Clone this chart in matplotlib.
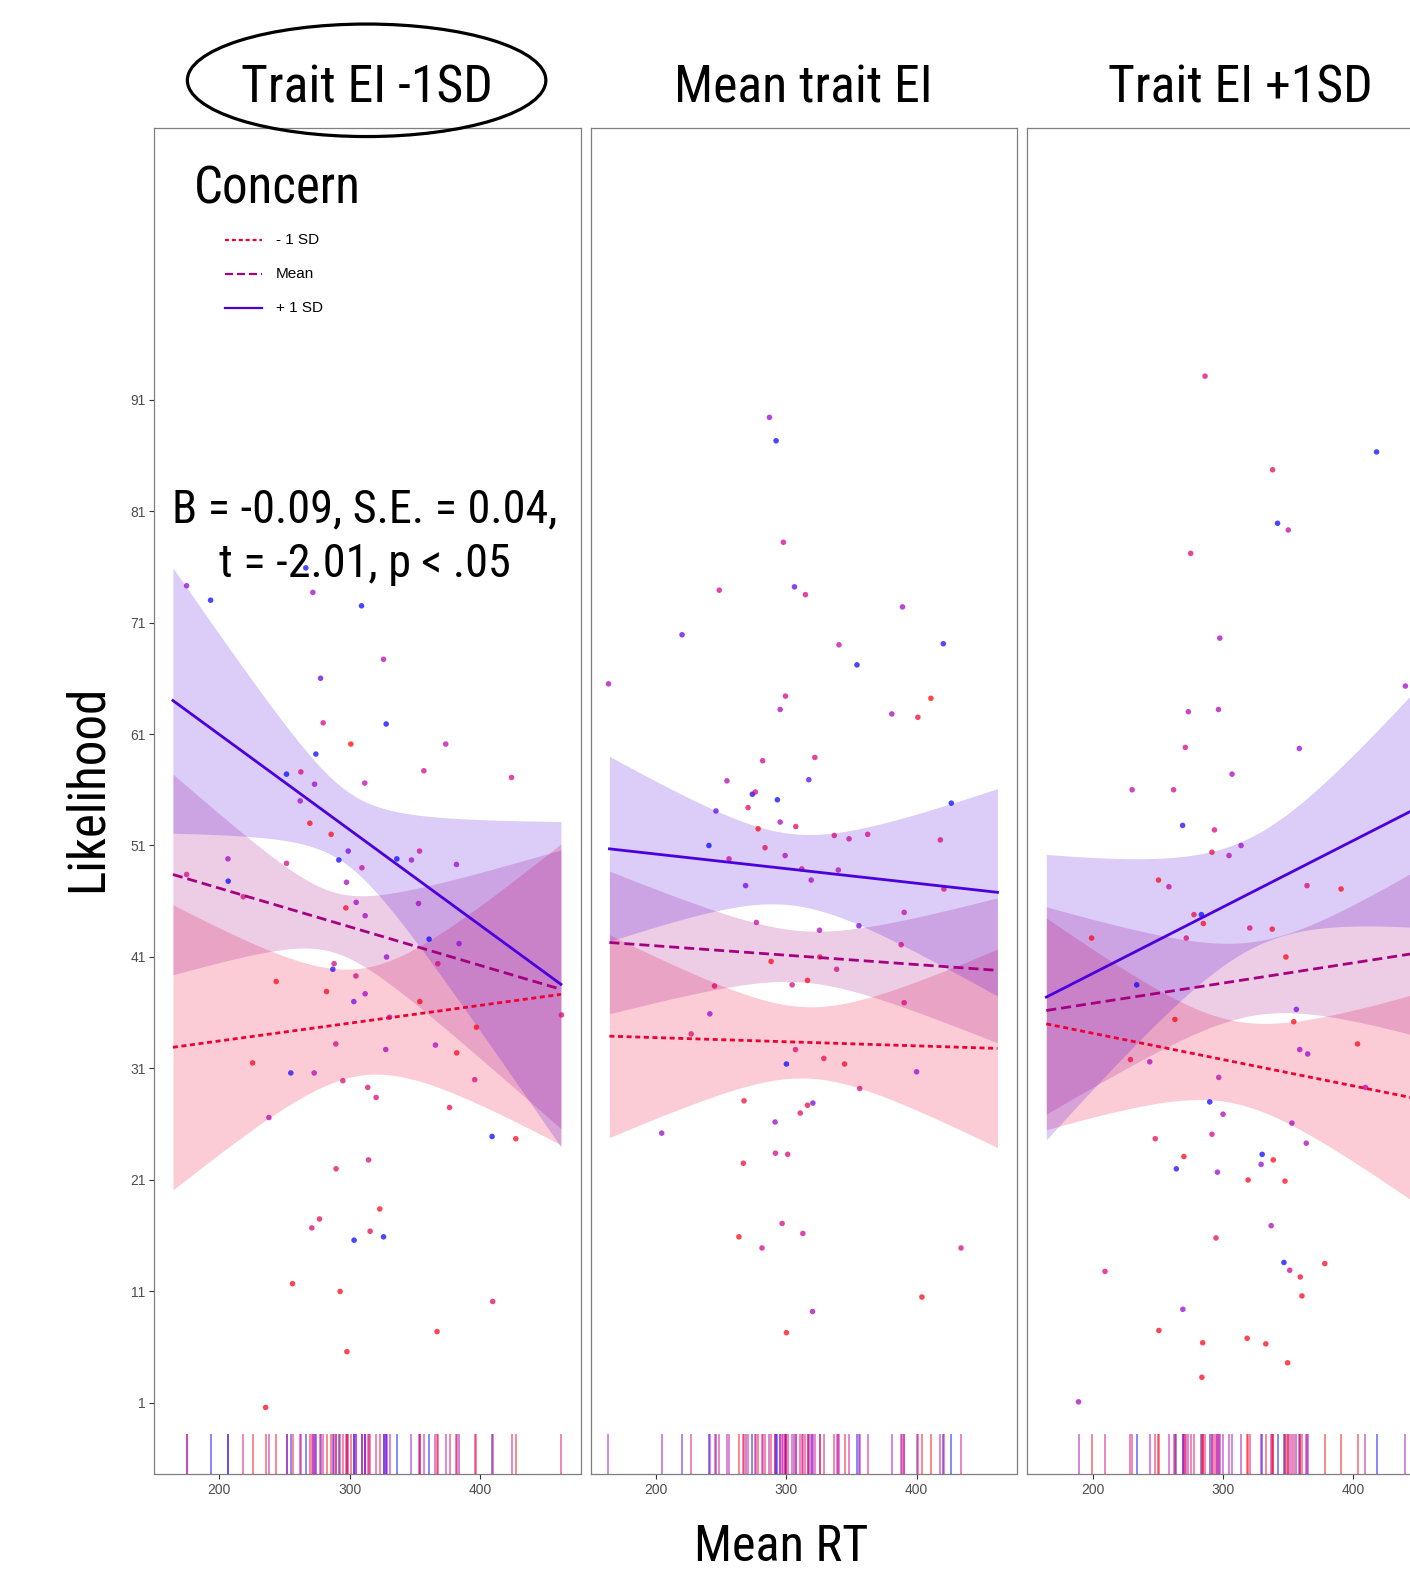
import numpy as np
import matplotlib
matplotlib.use('Agg')
import matplotlib.pyplot as plt
from matplotlib.colors import LinearSegmentedColormap
from matplotlib.patches import Ellipse
from matplotlib import font_manager

# ---- data ----
PANELS = ['Trait EI -1SD', 'Mean trait EI', 'Trait EI +1SD']
LEVELS = ['- 1 SD', 'Mean', '+ 1 SD']
RT_RANGE = (164.5, 462.0)

# simple slopes per panel, order: -1 SD, Mean, +1 SD
FIT_START = [[32.9, 48.4, 64.0], [33.9, 42.3, 50.7], [35.0, 36.2, 37.4]]
FIT_END = [[37.65, 38.1, 38.55], [32.8, 39.8, 46.8], [27.97, 41.6, 55.15]]
# CI half widths at the left end, at the narrowest point, at the right end
HW_START = [[12.8, 9.0, 11.9], [9.1, 6.4, 8.3], [9.5, 9.3, 12.8]]
HW_MIN = [[4.8, 2.7, 3.3], [3.2, 2.3, 3.2], [3.7, 3.3, 5.0]]
HW_END = [[13.5, 12.5, 14.6], [8.9, 6.5, 9.3], [10.2, 8.1, 11.6]]

# raw points: mean RT, likelihood, concern (0 = low/red, 1 = high/blue)
P1_RT = [175.0, 193.4, 266.4, 271.8, 309.1, 326.0, 277.7, 279.7, 328.0, 300.9,
         373.7, 274.1, 356.9, 424.1, 251.6, 262.6, 273.1, 311.6, 262.1, 269.5,
         285.8, 298.9, 291.7, 336.2, 347.4, 353.6, 381.9, 206.7, 251.6, 309.4,
         175.0, 206.9, 218.4, 297.6, 305.0, 297.1, 311.9, 352.8, 360.9, 383.9,
         328.3, 367.6, 288.1, 287.1, 304.8, 243.7, 282.3, 311.9, 303.2, 353.8,
         330.6, 462.4, 397.2, 289.4, 365.8, 327.7, 382.1, 225.6, 254.9, 272.8,
         294.8, 395.9, 313.9, 320.3, 376.6, 238.1, 409.2, 427.4, 289.6, 314.5,
         323.1, 276.9, 271.0, 315.7, 303.4, 326.0, 256.2, 292.7, 409.7, 367.0,
         297.9, 235.6]
P1_LIK = [74.3, 73.0, 75.9, 73.7, 72.5, 67.7, 66.0, 62.0, 61.9, 60.1,
          60.1, 59.2, 57.7, 57.1, 57.4, 57.6, 56.5, 56.6, 55.0, 53.0,
          52.0, 50.5, 49.7, 49.8, 49.7, 50.5, 49.3, 49.8, 49.4, 49.0,
          48.4, 47.8, 46.4, 47.7, 45.9, 45.4, 44.7, 45.8, 42.6, 42.2,
          41.0, 40.4, 40.4, 39.9, 39.3, 38.8, 37.9, 37.7, 37.0, 37.0,
          35.6, 35.8, 34.7, 33.2, 33.1, 32.7, 32.4, 31.5, 30.6, 30.6,
          29.9, 30.0, 29.3, 28.4, 27.5, 26.6, 24.9, 24.7, 22.0, 22.8,
          18.4, 17.5, 16.7, 16.4, 15.6, 15.9, 11.7, 11.0, 10.1, 7.4,
          5.6, 0.6]
P1_CON = [0.7, 1.0, 1.0, 0.7, 1.0, 0.55, 0.85, 0.4, 1.0, 0.0,
          0.55, 1.0, 0.4, 0.4, 1.0, 0.35, 0.7, 0.55, 0.7, 0.05,
          0.05, 0.8, 1.0, 1.0, 0.7, 0.45, 0.7, 0.65, 0.4, 0.5,
          0.4, 1.0, 0.35, 0.65, 0.7, 0.1, 0.65, 0.65, 1.0, 0.75,
          0.75, 0.35, 0.35, 0.95, 0.4, 0.05, 0.05, 0.65, 0.8, 0.05,
          0.65, 0.3, 0.05, 0.4, 0.6, 0.6, 0.05, 0.05, 0.95, 0.6,
          0.35, 0.35, 0.35, 0.35, 0.2, 0.55, 1.0, 0.05, 0.25, 0.35,
          0.05, 0.2, 0.3, 0.2, 1.0, 1.0, 0.05, 0.05, 0.25, 0.05,
          0.05, 0.05]

P2_RT = [287.2, 292.3, 297.9, 248.7, 306.4, 314.8, 389.2, 220.2, 340.5, 420.5,
         354.3, 163.8, 299.5, 295.4, 381.0, 411.0, 401.0, 282.0, 322.0, 254.6,
         317.4, 274.1, 276.4, 293.3, 246.2, 270.8, 426.6, 295.4, 307.4, 278.5,
         336.9, 348.2, 362.5, 418.2, 240.8, 283.8, 299.2, 256.2, 312.0, 340.0,
         319.2, 268.9, 421.0, 390.5, 355.8, 277.2, 325.6, 388.2, 288.5, 325.8,
         338.7, 316.4, 245.1, 304.6, 390.5, 241.5, 227.2, 307.2, 328.9, 344.8,
         300.2, 400.0, 356.4, 267.7, 316.4, 320.5, 310.8, 291.5, 204.6, 291.8,
         301.2, 267.2, 296.9, 312.8, 263.8, 281.5, 434.1, 404.1, 320.2, 300.2]
P2_LIK = [89.4, 87.3, 78.2, 73.9, 74.2, 73.5, 72.4, 69.9, 69.0, 69.1,
          67.2, 65.5, 64.4, 63.2, 62.8, 64.2, 62.5, 58.6, 58.9, 56.8,
          56.9, 55.6, 55.8, 55.1, 54.1, 54.4, 54.8, 53.1, 52.7, 52.5,
          51.9, 51.6, 52.0, 51.5, 51.0, 50.8, 50.1, 49.8, 48.9, 48.8,
          47.9, 47.4, 47.1, 45.0, 43.8, 44.1, 43.4, 42.1, 40.6, 41.0,
          39.9, 38.9, 38.4, 38.5, 36.9, 35.9, 34.1, 32.7, 31.9, 31.4,
          31.4, 30.7, 29.2, 28.1, 27.7, 27.9, 27.0, 26.2, 25.2, 23.4,
          23.3, 22.5, 17.1, 16.2, 15.9, 14.9, 14.9, 10.5, 9.2, 7.3]
P2_CON = [0.7, 1.0, 0.45, 0.4, 0.85, 0.35, 0.7, 0.85, 0.5, 0.95,
          1.0, 0.6, 0.4, 0.65, 0.65, 0.0, 0.15, 0.45, 0.35, 0.6,
          0.85, 1.0, 0.4, 1.0, 0.85, 0.25, 1.0, 0.65, 0.25, 0.05,
          0.35, 0.5, 0.4, 0.35, 1.0, 0.2, 0.6, 0.5, 0.4, 0.6,
          0.65, 0.8, 0.3, 0.5, 0.8, 0.5, 0.6, 0.4, 0.05, 0.15,
          0.4, 0.05, 0.3, 0.35, 0.35, 0.7, 0.3, 0.35, 0.2, 0.1,
          1.0, 0.7, 0.35, 0.15, 0.15, 0.8, 0.25, 0.7, 0.7, 0.4,
          0.35, 0.15, 0.4, 0.45, 0.05, 0.4, 0.4, 0.05, 0.65, 0.05]

P3_RT = [286.2, 417.7, 338.0, 341.8, 350.0, 275.2, 297.5, 439.8, 273.4, 296.5,
         271.1, 358.5, 306.9, 230.3, 262.1, 269.0, 293.4, 291.5, 313.8, 304.6,
         250.5, 258.5, 364.4, 390.5, 277.7, 283.4, 284.9, 320.5, 337.7, 199.2,
         271.8, 348.2, 233.8, 356.2, 263.1, 354.2, 403.1, 229.0, 243.8, 358.8,
         364.9, 409.2, 296.7, 289.8, 300.0, 352.8, 291.5, 363.8, 248.0, 270.0,
         330.0, 338.5, 329.2, 264.2, 295.7, 319.2, 347.5, 336.9, 294.6, 209.5,
         346.7, 351.1, 359.2, 378.0, 360.5, 269.2, 250.8, 284.4, 318.5, 332.8,
         349.5, 283.8, 189.2]
P3_LIK = [93.1, 86.3, 84.7, 79.9, 79.3, 77.2, 69.6, 65.3, 63.0, 63.2,
          59.8, 59.7, 57.4, 56.0, 56.0, 52.8, 52.4, 50.4, 51.0, 50.1,
          47.9, 47.3, 47.4, 47.1, 44.8, 44.8, 44.0, 43.6, 43.5, 42.7,
          42.7, 41.0, 38.5, 36.3, 35.4, 35.2, 33.2, 31.8, 31.6, 32.7,
          32.3, 29.3, 30.2, 28.0, 26.9, 26.1, 25.1, 24.3, 24.7, 23.1,
          23.3, 22.8, 22.4, 22.0, 21.7, 21.0, 20.9, 16.9, 15.8, 12.8,
          13.6, 12.9, 12.3, 13.5, 10.6, 9.4, 7.5, 6.4, 6.8, 6.3,
          4.6, 3.3, 1.1]
P3_CON = [0.35, 1.0, 0.25, 1.0, 0.5, 0.35, 0.65, 0.65, 0.6, 0.6,
          0.4, 0.7, 0.65, 0.5, 0.4, 0.95, 0.35, 0.15, 0.7, 0.6,
          0.05, 0.5, 0.35, 0.05, 0.2, 1.0, 0.05, 0.3, 0.1, 0.05,
          0.35, 0.05, 1.0, 0.8, 0.05, 0.05, 0.05, 0.15, 0.6, 0.65,
          0.7, 0.6, 0.55, 1.0, 0.6, 0.6, 0.4, 0.6, 0.2, 0.05,
          1.0, 0.05, 0.7, 0.95, 0.7, 0.05, 0.1, 0.6, 0.2, 0.35,
          1.0, 0.45, 0.1, 0.05, 0.05, 0.7, 0.05, 0.05, 0.05, 0.05,
          0.05, 0.05, 0.65]

POINTS = [(P1_RT, P1_LIK, P1_CON), (P2_RT, P2_LIK, P2_CON), (P3_RT, P3_LIK, P3_CON)]
Y_TICKS = [1, 11, 21, 31, 41, 51, 61, 71, 81, 91]
X_TICKS = [200, 300, 400]

# ---- styling ----
LINE_COLORS = ['#EE0033', '#A5007F', '#4B00DC']
LINE_DASHES = [(1.8, 1.3), (3.6, 1.8), None]
POINT_CMAP = LinearSegmentedColormap.from_list(
    'concern', ['#FF0000', '#E4005A', '#C4009E', '#8D00D6', '#0000FF'])

plt.rcParams['font.family'] = ['Liberation Sans', 'DejaVu Sans']


def pick_narrow_font():
    # the headings use a condensed face; take the best one installed
    fonts = font_manager.fontManager.ttflist
    names = {f.name for f in fonts}
    for name, scale in [('Liberation Sans Narrow', 1.0), ('Roboto Condensed', 0.98),
                        ('Noto Sans Condensed', 0.95), ('Open Sans Condensed', 0.95),
                        ('DejaVu Sans Condensed', 0.84)]:
        if name in names:
            return {'family': name}, scale
    for f in fonts:
        if str(f.stretch) in ('condensed', 'semi-condensed', '500', '600'):
            if f.name in ('DejaVu Sans', 'Noto Sans', 'Open Sans', 'Roboto'):
                sc = 0.84 if f.name == 'DejaVu Sans' else 0.95
                return {'family': f.name, 'fontstretch': 'condensed'}, sc
    return {'family': 'Liberation Sans'}, 0.82


BIG, BIG_SCALE = pick_narrow_font()
W, H = 1410, 1575


def ci_band(rt, y0, y1, hw0, hmin, hw1):
    # straight fit with a hyperbolic (lm-style) confidence band
    a = np.sqrt(hw0 ** 2 - hmin ** 2)
    b = np.sqrt(hw1 ** 2 - hmin ** 2)
    xc = (b * rt[0] + a * rt[-1]) / (a + b)
    c = (a + b) / (rt[-1] - rt[0])
    fit = y0 + (y1 - y0) * (rt - rt[0]) / (rt[-1] - rt[0])
    hw = np.sqrt(hmin ** 2 + (c * (rt - xc)) ** 2)
    return fit, fit - hw, fit + hw


fig = plt.figure(figsize=(W / 100, H / 100), dpi=100)
lefts = [154, 590.5, 1027.4]
bottom_px, top_px, width_px = 1474.3, 127.5, 426.5

rt = np.linspace(RT_RANGE[0], RT_RANGE[1], 300)
axes = []
for i, left in enumerate(lefts):
    ax = fig.add_axes([left / W, (H - bottom_px) / H, width_px / W,
                       (bottom_px - top_px) / H])
    axes.append(ax)
    ax.set_xlim(150, 477)
    ax.set_ylim(-5.4, 115.4)

    fits = []
    for j in range(3):
        fit, lo, hi = ci_band(rt, FIT_START[i][j], FIT_END[i][j],
                              HW_START[i][j], HW_MIN[i][j], HW_END[i][j])
        fits.append(fit)
        ax.fill_between(rt, lo, hi, color=LINE_COLORS[j], alpha=0.2, lw=0, zorder=1)

    xs, ys, cs = POINTS[i]
    ax.scatter(xs, ys, c=cs, cmap=POINT_CMAP, vmin=0, vmax=1, s=16,
               alpha=0.72, linewidths=0, zorder=2)

    for j in range(3):
        ln, = ax.plot(rt, fits[j], color=LINE_COLORS[j], lw=2.0, zorder=3)
        if LINE_DASHES[j]:
            ln.set_dashes(LINE_DASHES[j])

    ax.vlines(xs, 0, 0.03, transform=ax.get_xaxis_transform(),
              colors=POINT_CMAP(np.array(cs)), alpha=0.55, lw=1.2, zorder=4)

    for s in ax.spines.values():
        s.set_color('#7F7F7F')
        s.set_linewidth(0.9)
    ax.set_xticks(X_TICKS)
    ax.set_yticks(Y_TICKS)
    ax.tick_params(colors='#333333', labelcolor='#4D4D4D', labelsize=10,
                   length=3.6, width=0.8, pad=2.5)
    if i > 0:
        ax.tick_params(axis='y', left=False, labelleft=False)

    ax.text(0.5, 1.0186, PANELS[i], transform=ax.transAxes, ha='center',
            va='baseline', fontsize=38 * BIG_SCALE, **BIG)

# legend drawn inside the first panel
ax = axes[0]
ax.text(0.0933, 0.9432, 'Concern', transform=ax.transAxes, ha='left',
        va='baseline', fontsize=37.5 * BIG_SCALE, **BIG)
for j, (lab, yy) in enumerate(zip(LEVELS, [0.9165, 0.8911, 0.8658])):
    ln, = ax.plot([0.1665, 0.2532], [yy, yy], transform=ax.transAxes,
                  color=LINE_COLORS[j], lw=1.6, zorder=5)
    if LINE_DASHES[j]:
        ln.set_dashes(LINE_DASHES[j])
    ax.text(0.286, yy, lab, transform=ax.transAxes, ha='left', va='center',
            fontsize=11)

ax.text(0.4947, 0.7071, 'B = -0.09, S.E. = 0.04,', transform=ax.transAxes,
        ha='center', va='baseline', fontsize=34 * BIG_SCALE, zorder=6, **BIG)
ax.text(0.4947, 0.6663, 't = -2.01, p < .05', transform=ax.transAxes,
        ha='center', va='baseline', fontsize=34 * BIG_SCALE, zorder=6, **BIG)

fig.text(88 / W, 1 - 788 / H, 'Likelihood', rotation=90, ha='center',
         va='center', fontsize=37.5 * BIG_SCALE, **BIG)
fig.text(781 / W, 14 / H, 'Mean RT', ha='center', va='baseline',
         fontsize=37 * BIG_SCALE, **BIG)

fig.add_artist(Ellipse((366.6 / W, 1 - 80.3 / H), 358.5 / W, 112.5 / H,
                       transform=fig.transFigure, fill=False, ec='black', lw=2.3))

fig.savefig('out.png', dpi=100)
